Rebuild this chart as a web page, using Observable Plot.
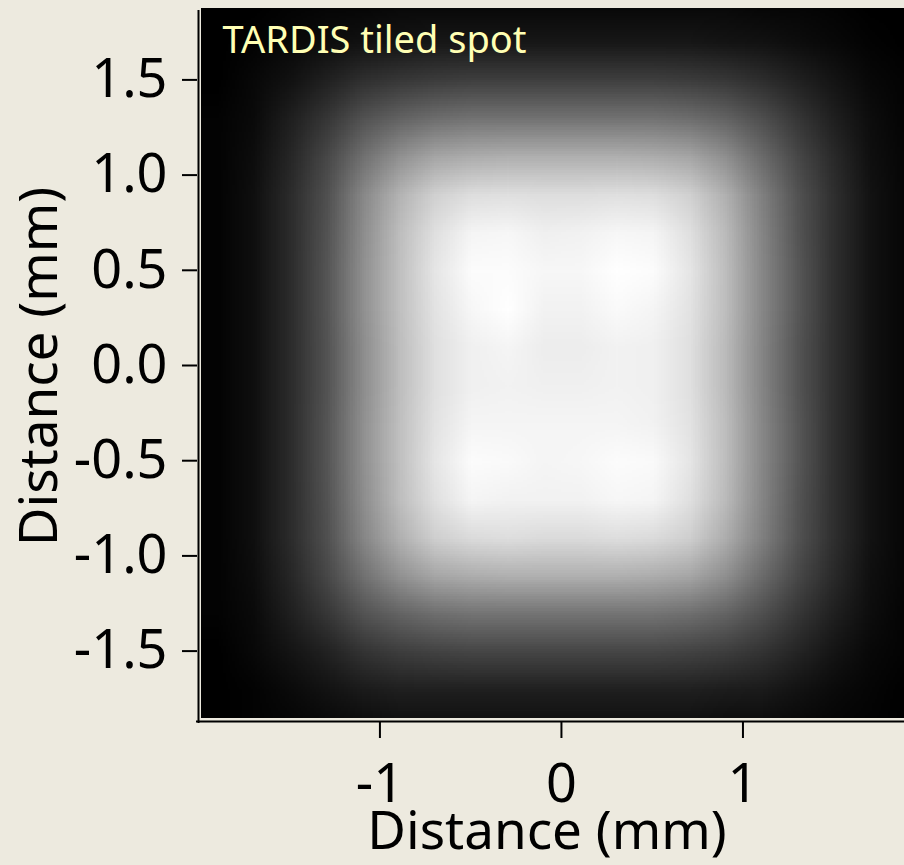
<!DOCTYPE html>
<html>
<head>
<meta charset="utf-8">
<script src="https://cdn.jsdelivr.net/npm/d3@7"></script>
<script src="https://cdn.jsdelivr.net/npm/@observablehq/plot@0.6"></script>
<style>
html, body { margin: 0; padding: 0; background: #EDEADF; }
#chart svg { display: block; }
</style>
</head>
<body>
<div id="chart"></div>
<script>
// Cell centres (mm)
const xCenters = [-1.9,-1.7,-1.5,-1.3,-1.1,-0.9,-0.7,-0.5,-0.3,-0.1,0.1,0.3,0.5,0.7,0.9,1.1,1.3,1.5,1.7,1.9];
const yCenters = [1.9,1.7,1.5,1.3,1.1,0.9,0.7,0.5,0.3,0.1,-0.1,-0.3,-0.5,-0.7,-0.9,-1.1,-1.3,-1.5,-1.7,-1.9];
// Relative intensity (rows top to bottom)
const intensity = [
  [0,0,0.01,0.02,0.02,0.03,0.03,0.03,0.03,0.03,0.03,0.03,0.03,0.03,0.03,0.02,0.02,0.01,0,0],
  [0,0.01,0.03,0.05,0.07,0.08,0.09,0.09,0.09,0.09,0.09,0.09,0.09,0.09,0.08,0.07,0.05,0.03,0.01,0],
  [0,0.03,0.07,0.13,0.19,0.22,0.24,0.25,0.25,0.25,0.25,0.25,0.25,0.24,0.22,0.18,0.13,0.08,0.03,0.01],
  [0.01,0.04,0.12,0.21,0.32,0.39,0.43,0.45,0.45,0.45,0.45,0.45,0.45,0.43,0.39,0.31,0.21,0.12,0.05,0.01],
  [0.01,0.05,0.15,0.28,0.44,0.57,0.65,0.68,0.69,0.69,0.69,0.69,0.68,0.65,0.56,0.42,0.28,0.16,0.06,0.02],
  [0.01,0.06,0.17,0.31,0.53,0.70,0.82,0.87,0.88,0.87,0.87,0.88,0.87,0.82,0.69,0.50,0.32,0.18,0.07,0.02],
  [0.01,0.06,0.17,0.32,0.55,0.74,0.88,0.96,0.97,0.94,0.95,0.97,0.96,0.88,0.73,0.52,0.33,0.18,0.07,0.02],
  [0.01,0.06,0.17,0.33,0.56,0.75,0.90,0.99,0.99,0.97,0.97,1.00,0.99,0.90,0.74,0.53,0.34,0.18,0.07,0.02],
  [0.01,0.06,0.17,0.33,0.56,0.75,0.89,0.97,1.00,0.95,0.95,0.98,0.96,0.89,0.74,0.53,0.34,0.18,0.07,0.02],
  [0.01,0.06,0.17,0.32,0.55,0.74,0.88,0.94,0.96,0.93,0.93,0.95,0.94,0.88,0.73,0.52,0.33,0.18,0.07,0.02],
  [0.01,0.06,0.17,0.32,0.55,0.74,0.88,0.94,0.95,0.94,0.94,0.95,0.94,0.88,0.73,0.52,0.33,0.18,0.07,0.02],
  [0.01,0.06,0.17,0.33,0.56,0.75,0.89,0.96,0.96,0.96,0.96,0.96,0.95,0.89,0.74,0.53,0.34,0.18,0.07,0.02],
  [0.01,0.06,0.17,0.33,0.56,0.75,0.90,0.99,0.98,0.96,0.97,0.99,0.98,0.90,0.74,0.53,0.34,0.18,0.07,0.02],
  [0.01,0.06,0.17,0.32,0.55,0.74,0.88,0.96,0.95,0.95,0.95,0.97,0.96,0.88,0.73,0.52,0.33,0.18,0.07,0.02],
  [0.01,0.06,0.17,0.31,0.52,0.69,0.81,0.86,0.87,0.86,0.86,0.87,0.86,0.81,0.68,0.50,0.32,0.18,0.07,0.02],
  [0.01,0.05,0.15,0.28,0.44,0.57,0.65,0.68,0.69,0.69,0.69,0.69,0.68,0.65,0.56,0.42,0.28,0.16,0.06,0.02],
  [0.01,0.04,0.12,0.21,0.32,0.39,0.43,0.45,0.45,0.45,0.45,0.45,0.45,0.43,0.39,0.31,0.21,0.12,0.05,0.01],
  [0,0.03,0.08,0.13,0.20,0.24,0.26,0.27,0.27,0.27,0.27,0.27,0.27,0.26,0.24,0.20,0.14,0.08,0.03,0.01],
  [0,0.01,0.04,0.07,0.10,0.12,0.12,0.12,0.12,0.12,0.12,0.12,0.12,0.12,0.11,0.10,0.07,0.04,0.02,0],
  [0,0.01,0.02,0.03,0.04,0.05,0.05,0.05,0.05,0.05,0.05,0.05,0.05,0.05,0.04,0.04,0.03,0.02,0.01,0]
];
const xTicks = [-1, 0, 1];
const yTicks = [-1.5, -1.0, -0.5, 0, 0.5, 1.0, 1.5];
const titleText = "TARDIS tiled spot";
const xLabel = "Distance (mm)";
const yLabel = "Distance (mm)";
const xExtent = [-1.983, 1.890];
const yExtent = [-1.854, 1.875];

const cols = xCenters.length;
const rows = yCenters.length;
const half = (xCenters[1] - xCenters[0]) / 2;
const flat = intensity.flat();

const chart = Plot.plot({
  width: 904,
  height: 865,
  marginLeft: 201,
  marginRight: 0,
  marginTop: 8,
  marginBottom: 147,
  style: {background: "#EDEADF", fontFamily: "'Noto Sans', sans-serif", color: "black"},
  x: {domain: xExtent},
  y: {domain: yExtent},
  color: {type: "linear", domain: [0, 1], range: ["#000000", "#ffffff"], interpolate: "rgb"},
  marks: [
    Plot.raster(flat, {
      width: cols, height: rows,
      x1: xCenters[0] - half, x2: xCenters[cols - 1] + half,
      y1: yCenters[0] + half, y2: yCenters[rows - 1] - half,
      fill: d => d,
      clip: true
    }),
    Plot.ruleX([xExtent[0]], {dx: -3, stroke: "black", strokeWidth: 2, insetTop: 2, insetBottom: -5}),
    Plot.ruleY([yExtent[0]], {dy: 3, stroke: "black", strokeWidth: 2, insetLeft: -5}),
    Plot.axisX(xTicks, {
      tickSize: 16, tickPadding: 25, dy: 4, fontSize: 54, strokeWidth: 2,
      tickFormat: d => String(d), label: null
    }),
    Plot.axisY(yTicks, {
      tickSize: 15, tickPadding: 15, dx: -4, fontSize: 54, strokeWidth: 2,
      tickFormat: d => d.toFixed(1), label: null
    }),
    Plot.text([titleText], {
      text: d => d, frameAnchor: "top-left", textAnchor: "start", lineAnchor: "middle",
      dx: 21, dy: 32, fontSize: 38, fill: "#FFFFB4"
    }),
    Plot.text([xLabel], {
      text: d => d, frameAnchor: "bottom", textAnchor: "middle", lineAnchor: "middle",
      dx: -6, dy: 114, fontSize: 53, fill: "black"
    }),
    Plot.text([yLabel], {
      text: d => d, frameAnchor: "left", textAnchor: "middle", lineAnchor: "middle", rotate: -90,
      dx: -161, dy: 3, fontSize: 53, fill: "black"
    })
  ]
});
document.getElementById("chart").appendChild(chart);
</script>
</body>
</html>
